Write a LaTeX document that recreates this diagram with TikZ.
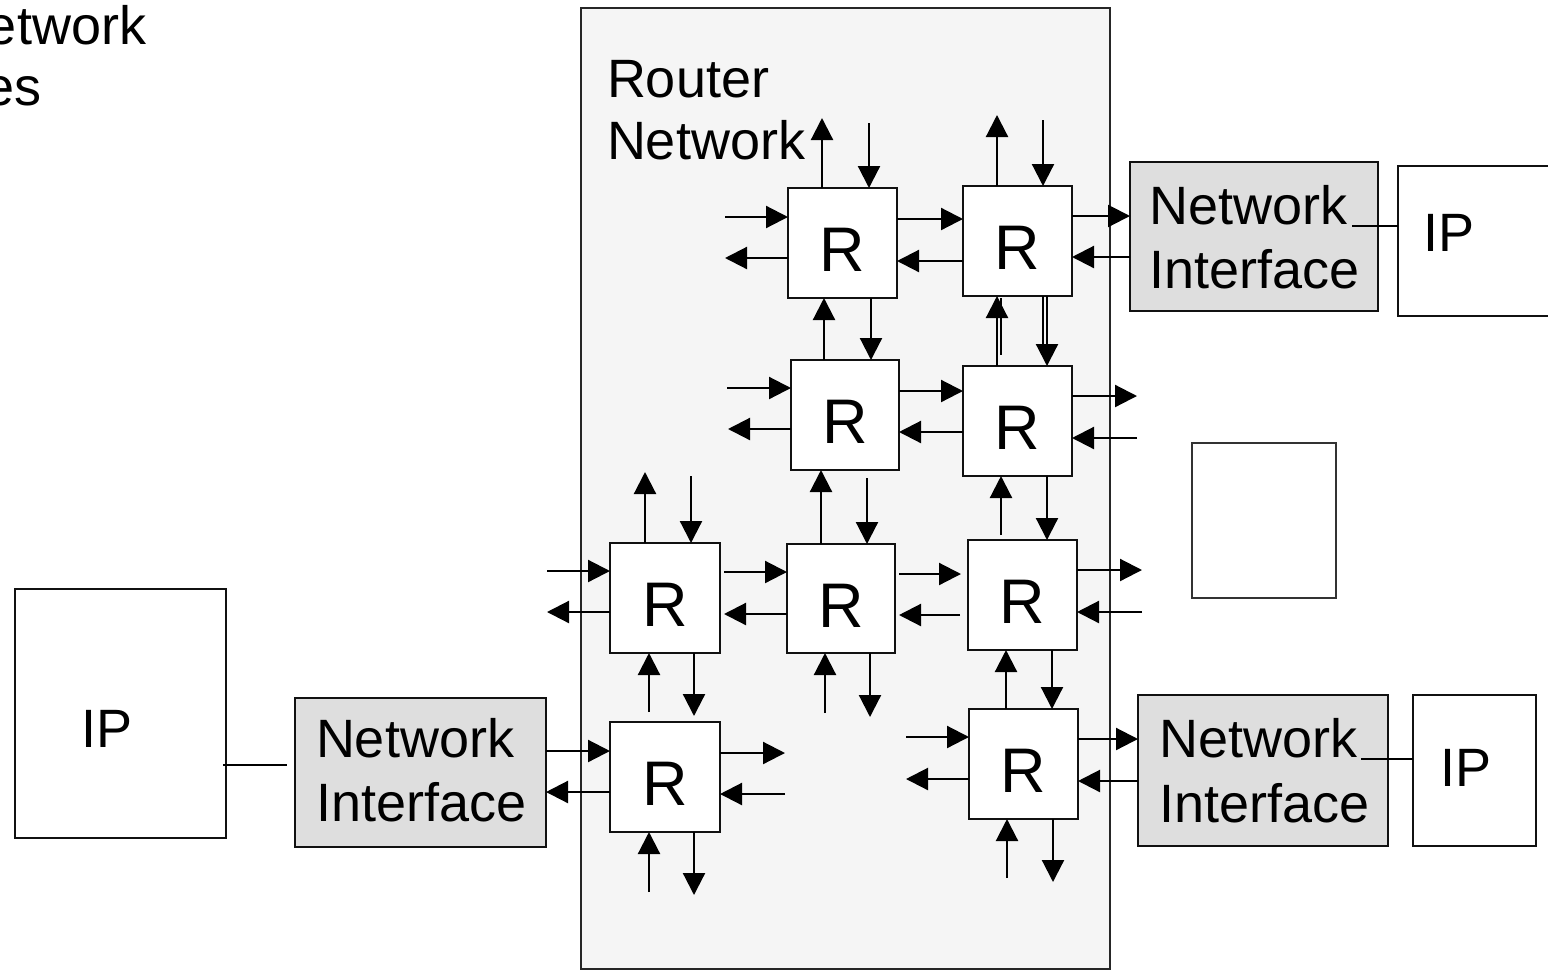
\documentclass[tikz,border=0pt]{standalone}
\usepackage{fontspec}
\setmainfont{Liberation Sans}
\usetikzlibrary{arrows.meta}
\definecolor{framefill}{HTML}{F5F5F5}
\definecolor{nifill}{HTML}{DEDEDE}
\definecolor{ink}{HTML}{111111}
\tikzset{
  big/.style={font=\fontsize{54}{64}\selectfont},
  txt/.style={big,anchor=base west,inner sep=0pt,outer sep=0pt},
  rbox/.style={draw=ink,fill=white,line width=2.5pt,minimum width=109pt,minimum height=110pt,
    inner sep=0pt,outer sep=0pt,font=\fontsize{63}{70}\selectfont,text height=57pt,text depth=0pt},
  nibox/.style={draw=ink,fill=nifill,line width=2.3pt,inner sep=0pt,outer sep=0pt},
  ipbox/.style={draw=ink,fill=white,line width=2.3pt,inner sep=0pt,outer sep=0pt},
  arr/.style={draw=black,line width=2.2pt,-{Triangle[length=22pt,width=22pt]}},
  wire/.style={draw=black,line width=2.2pt},
}
\begin{document}
\begin{tikzpicture}[x=1pt,y=-1pt]
\useasboundingbox (0,0) rectangle (1548,970);
% top-left partial text
\node[txt] (tl1) at (-13,44) {etwork};
\node[txt] (tl2) at (-16,105) {es};
% router network frame
\node[draw=black!85,fill=framefill,line width=2pt,minimum width=529pt,minimum height=961pt,inner sep=0pt,outer sep=0pt] (rn) at (845.5,488.5) {};
\node[txt] (rnt1) at (607,97) {Router};
\node[txt] (rnt2) at (607,159) {Network};
% blank box
\node[draw=black!80,fill=white,line width=1.4pt,minimum width=144pt,minimum height=155pt,inner sep=0pt] (blank) at (1264,520.5) {};
% IP and NI boxes
\node[ipbox,minimum width=211pt,minimum height=249pt] (ipL) at (120.5,713.5) {};
\node[txt] (ipLt) at (81,747) {IP};
\node[nibox,minimum width=251pt,minimum height=149pt] (niL) at (420.5,772.5) {};
\node[txt] (niLt1) at (316,757) {Network};
\node[txt] (niLt2) at (316,821) {Interface};
\node[nibox,minimum width=248pt,minimum height=149pt] (niTR) at (1254,236.5) {};
\node[txt] (niTRt1) at (1149,224) {Network};
\node[txt] (niTRt2) at (1149,288) {Interface};
\node[ipbox,minimum width=202pt,minimum height=150pt] (ipTR) at (1499,241) {};
\node[txt] (ipTRt) at (1423,251) {IP};
\node[nibox,minimum width=250pt,minimum height=151pt] (niBR) at (1263,770.5) {};
\node[txt] (niBRt1) at (1159,757) {Network};
\node[txt] (niBRt2) at (1159,822) {Interface};
\node[ipbox,minimum width=123pt,minimum height=151pt] (ipBR) at (1474.5,770.5) {};
\node[txt] (ipBRt) at (1440,786) {IP};
% IP-NI links
\coordinate (l1a) at (223,765); \coordinate (l1b) at (287,765);
\draw[wire] (l1a) -- (l1b);
\coordinate (l2a) at (1352,226);
\draw[wire] (l2a) -- (ipTR.west |- 0,226);
\coordinate (l3a) at (1361,759);
\draw[wire] (l3a) -- (ipBR.west |- 0,759);
% routers
\node[rbox] (R11) at (842.5,243) {R};
\node[rbox] (R12) at (1017.5,241) {R};
\node[rbox,minimum width=108pt] (R21) at (845,415) {R};
\node[rbox] (R22) at (1017.5,421) {R};
\node[rbox,minimum width=110pt] (R31) at (665,598) {R};
\node[rbox,minimum width=108pt,minimum height=109pt] (R32) at (841,598.5) {R};
\node[rbox] (R33) at (1022.5,595) {R};
\node[rbox,minimum width=110pt] (R41) at (665,777) {R};
\node[rbox] (R43) at (1023.5,764) {R};
% ---- R11
\draw[arr] (R11.north -| 822,0) -- (822,118);
\draw[arr] (869,123) -- (R11.north -| 869,0);
\draw[arr] (725,217) -- (R11.west |- 0,217);
\draw[arr] (R11.west |- 0,258) -- (725,258);
\draw[arr] (R11.east |- 0,219) -- (R12.west |- 0,219);
\draw[arr] (R12.west |- 0,261) -- (R11.east |- 0,261);
\draw[arr] (R21.north -| 824,0) -- (R11.south -| 824,0);
\draw[arr] (R11.south -| 871,0) -- (R21.north -| 871,0);
% ---- R12
\draw[arr] (R12.north -| 997,0) -- (997,115);
\draw[arr] (1043,120) -- (R12.north -| 1043,0);
\draw[arr] (R12.east |- 0,216) -- (niTR.west |- 0,216);
\draw[arr] (niTR.west |- 0,257) -- (R12.east |- 0,257);
\draw[arr] (R22.north -| 997,0) -- (R12.south -| 997,0);
\draw[wire] (1001,298) -- (1001,355);
\draw[arr] (R12.south -| 1047,0) -- (R22.north -| 1047,0);
\draw[wire] (1043,296) -- (1043,345);
% ---- R21
\draw[arr] (727,388) -- (R21.west |- 0,388);
\draw[arr] (R21.west |- 0,429) -- (728,429);
\draw[arr] (R21.east |- 0,391) -- (R22.west |- 0,391);
\draw[arr] (R22.west |- 0,432) -- (R21.east |- 0,432);
\draw[arr] (R32.north -| 821,0) -- (R21.south -| 821,0);
\draw[arr] (867,478) -- (R32.north -| 867,0);
% ---- R22
\draw[arr] (R22.east |- 0,396) -- (1137,396);
\draw[arr] (1137,438) -- (R22.east |- 0,438);
\draw[arr] (1001,535) -- (R22.south -| 1001,0);
\draw[arr] (R22.south -| 1047,0) -- (R33.north -| 1047,0);
% ---- R31
\draw[arr] (R31.north -| 645,0) -- (645,472);
\draw[arr] (691,476) -- (R31.north -| 691,0);
\draw[arr] (547,571) -- (R31.west |- 0,571);
\draw[arr] (R31.west |- 0,612) -- (547,612);
\draw[arr] (724,572) -- (R32.west |- 0,572);
\draw[arr] (R32.west |- 0,614) -- (724,614);
\draw[arr] (649,712) -- (R31.south -| 649,0);
\draw[arr] (R31.south -| 694,0) -- (694,716);
% ---- R32
\draw[arr] (899,574) -- (961,574);
\draw[arr] (960,615) -- (899,615);
\draw[arr] (825,713) -- (R32.south -| 825,0);
\draw[arr] (R32.south -| 870,0) -- (870,717);
% ---- R33
\draw[arr] (R33.east |- 0,570) -- (1142,570);
\draw[arr] (1142,612) -- (R33.east |- 0,612);
\draw[arr] (R43.north -| 1006,0) -- (R33.south -| 1006,0);
\draw[arr] (R33.south -| 1052,0) -- (R43.north -| 1052,0);
% ---- R41
\draw[arr] (niL.east |- 0,751) -- (R41.west |- 0,751);
\draw[arr] (R41.west |- 0,792) -- (niL.east |- 0,792);
\draw[arr] (R41.east |- 0,753) -- (785,753);
\draw[arr] (785,794) -- (R41.east |- 0,794);
\draw[arr] (649,892) -- (R41.south -| 649,0);
\draw[arr] (R41.south -| 694,0) -- (694,895);
% ---- R43
\draw[arr] (906,737) -- (R43.west |- 0,737);
\draw[arr] (R43.west |- 0,779) -- (906,779);
\draw[arr] (R43.east |- 0,739) -- (niBR.west |- 0,739);
\draw[arr] (niBR.west |- 0,781) -- (R43.east |- 0,781);
\draw[arr] (1007,878) -- (R43.south -| 1007,0);
\draw[arr] (R43.south -| 1053,0) -- (1053,882);
\end{tikzpicture}
\end{document}
